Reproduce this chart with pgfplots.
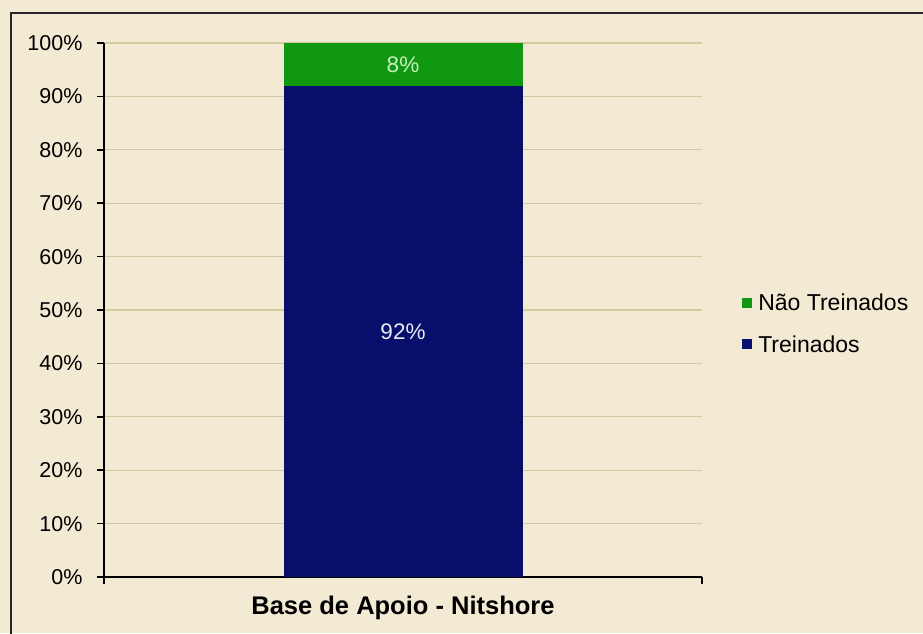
\documentclass[border=0pt]{standalone}
\usepackage{pgfplots}
\pgfplotsset{compat=1.18}
\usepackage{fontspec}
\setmainfont{Liberation Sans}

\definecolor{paper}{RGB}{243,234,212}
\definecolor{gridtan}{RGB}{214,200,160}
\definecolor{barnavy}{RGB}{8,14,108}
\definecolor{bargreen}{RGB}{16,152,16}
\definecolor{lbgreen}{RGB}{200,240,192}
\definecolor{lbnavy}{RGB}{232,232,245}

\begin{document}
\begin{tikzpicture}
% page and frame
\fill[paper] (0pt,0pt) rectangle (923pt,633pt);
\useasboundingbox (0pt,0pt) rectangle (923pt,633pt);
\draw[line width=2pt, black!85] (11pt,-2pt) -- (11pt,620pt) -- (925pt,620pt);

\begin{axis}[
  at={(104pt,56pt)}, anchor=south west,
  scale only axis, width=598pt, height=534pt,
  ybar stacked, bar width=239pt,
  xmin=-0.5, xmax=0.5, ymin=0, ymax=100,
  axis x line*=bottom, axis y line*=left,
  axis line style={line width=1.6pt, black},
  xtick={-0.5,0.5}, xticklabels={},
  ytick={0,10,...,100},
  yticklabel={\pgfmathprintnumber{\tick}\%},
  tick align=outside, major tick length=7pt,
  tick style={line width=1.6pt, black},
  ymajorgrids, grid style={line width=1.2pt, gridtan},
  /pgf/number format/assume math mode=true,
  ticklabel style={font=\fontsize{21.5}{24}\selectfont},
  yticklabel style={xshift=-11pt},
  xlabel={\textbf{Base de Apoio - Nitshore}},
  xlabel style={at={(axis description cs:0.5,0)}, anchor=center, yshift=-31pt,
    font=\fontsize{25.5}{28}\selectfont},
  reverse legend,
  legend cell align=left,
  legend image code/.code={\fill[#1] (0pt,-5pt) rectangle (10pt,5pt);},
  legend style={at={(1.067,0.474)}, anchor=west, draw=none, fill=none,
    inner sep=0pt, row sep=23pt, nodes={inner xsep=6pt, inner ysep=0pt},
    font=\fontsize{23}{25}\selectfont},
  nodes near coords, point meta=explicit symbolic,
  every node near coord/.append style={anchor=center, font=\fontsize{22.5}{24}\selectfont},
]
\addplot[fill=barnavy, draw=none,
  every node near coord/.append style={text=lbnavy}]
  coordinates {(0,92) [92\%]};
\addlegendentry{Treinados}
\addplot[fill=bargreen, draw=none,
  every node near coord/.append style={text=lbgreen}]
  coordinates {(0,8) [8\%]};
\addlegendentry{Não Treinados}
\end{axis}
\end{tikzpicture}
\end{document}
